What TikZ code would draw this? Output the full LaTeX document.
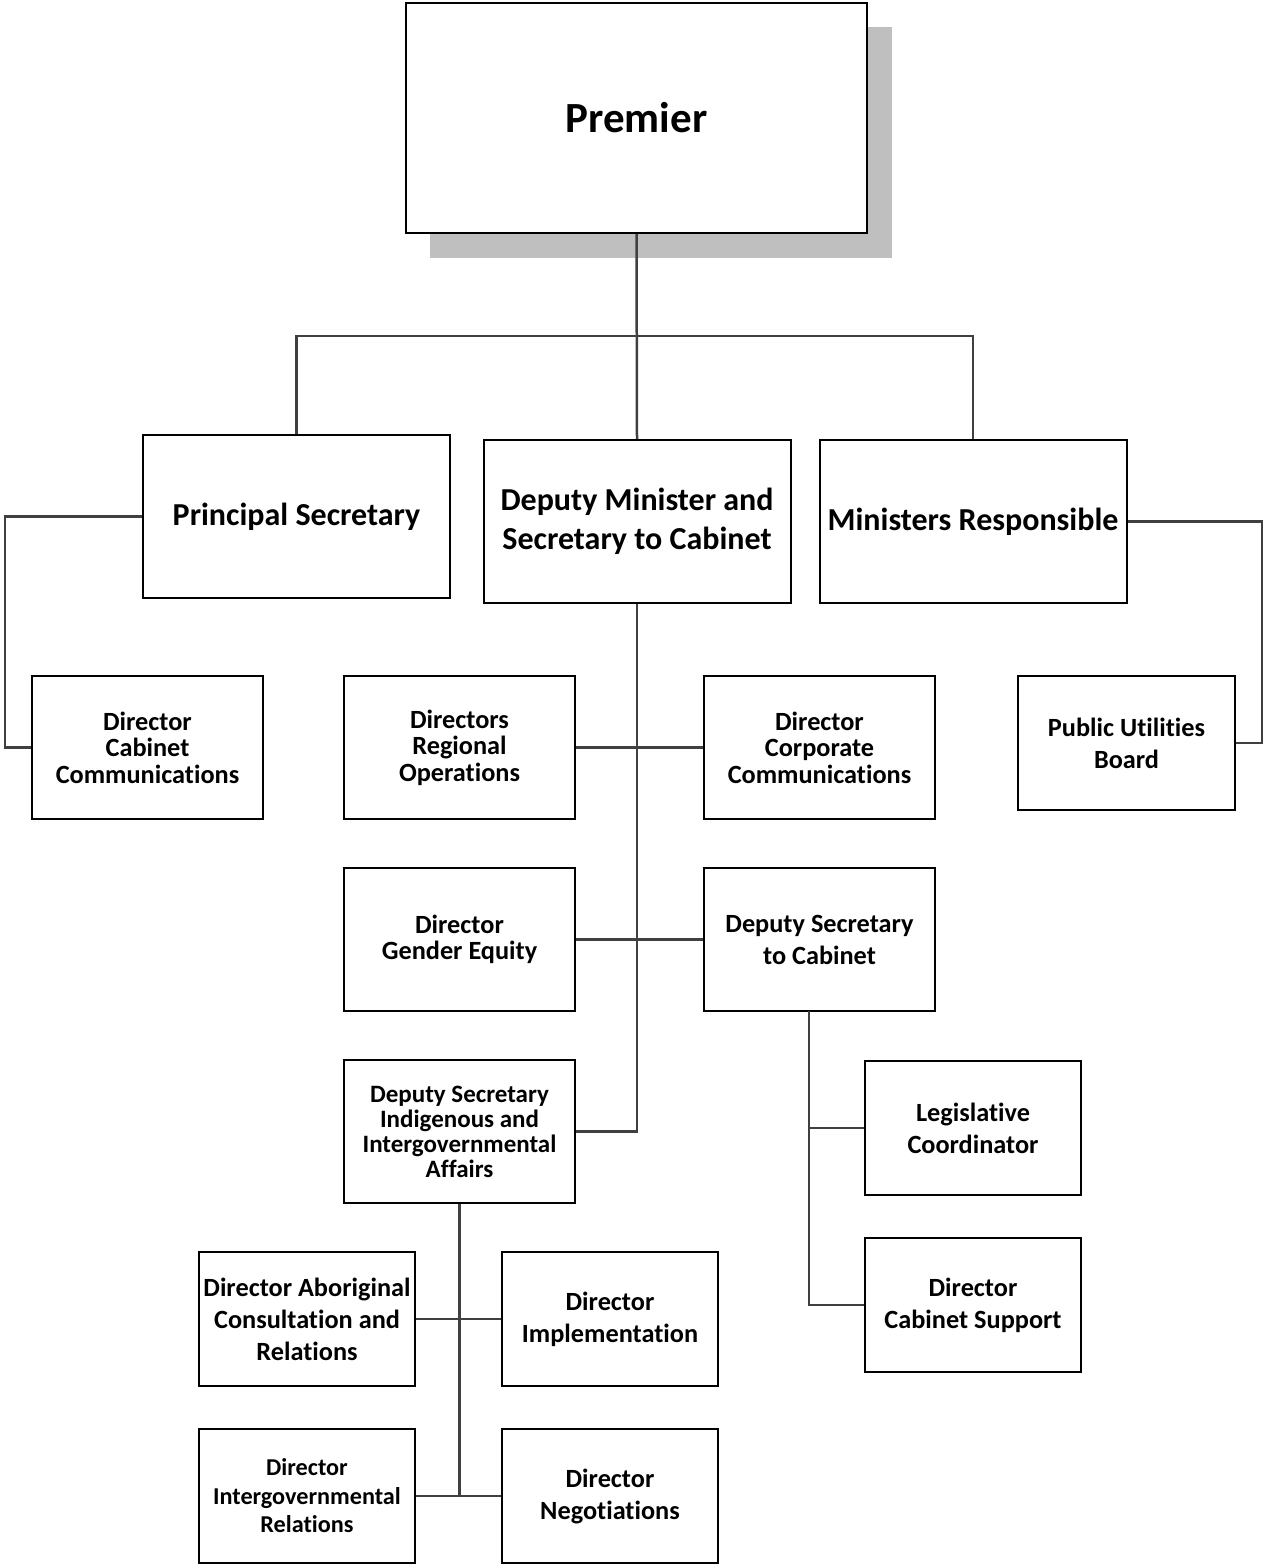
\documentclass[tikz,border=0pt]{standalone}
\usepackage{fontspec}
\setmainfont{Carlito}[Ligatures={NoCommon}]
\begin{document}
\begin{tikzpicture}[x=1pt,y=-1pt,
  box/.style={draw=black, line width=2pt, fill=white, inner sep=0pt, align=center, font=\bfseries},
  top/.style={box, minimum width=307pt, minimum height=163pt, font=\bfseries\fontsize{32}{39}\selectfont},
  mid/.style={box, minimum width=231pt, minimum height=143pt},
  low/.style={box, minimum width=216pt, minimum height=134pt},
  tight/.style={font=\bfseries\fontsize{26.3}{26.5}\selectfont},
  loose/.style={font=\bfseries\fontsize{26.3}{32}\selectfont},
  link/.style={draw=black!75, line width=2.5pt},
]
\useasboundingbox (0,0) rectangle (1264,1565);

% shadow and head box
\fill[black!25] (430,27) rectangle (892,258);
\node[box, minimum width=461pt, minimum height=230pt, font=\bfseries\fontsize{43}{50}\selectfont] (prem) at (636.5,118) {Premier};

% first tier
\node[top] (ps) at (296.5,516.5) {\raisebox{-2pt}{Principal Secretary}};
\node[top] (dm) at (637,521.5) {\raisebox{-2pt}{Deputy Minister and}\\\raisebox{-2pt}{Secretary to Cabinet}};
\node[top] (mr) at (973,521.5) {\raisebox{-2pt}{Ministers Responsible}};

% second tier
\node[mid, tight] (dcc) at (147.5,747.5) {Director\\Cabinet\\Communications};
\node[mid, tight] (dro) at (459.5,747.5) {Directors\\Regional\\Operations};
\node[mid, tight] (dcorp) at (819.5,747.5) {Director\\Corporate\\Communications};
\node[low, loose, minimum width=217pt] (pub) at (1126.5,743) {Public Utilities\\Board};

\node[mid, tight] (dge) at (459.5,939.5) {Director\\Gender Equity};
\node[mid, loose] (dsc) at (819.5,939.5) {Deputy Secretary\\to Cabinet};

\node[mid, font=\bfseries\fontsize{25}{25}\selectfont] (dsi) at (459.5,1131.5) {Deputy Secretary\\Indigenous and\\Intergovernmental\\Affairs};

\node[low, loose] (lc) at (973,1128) {Legislative\\Coordinator};
\node[low, loose] (dcs) at (973,1305) {Director\\Cabinet Support};

\node[low, loose] (dac) at (307,1319) {Director Aboriginal\\Consultation and\\Relations};
\node[low, loose] (di) at (610,1319) {Director\\Implementation};
\node[low, font=\bfseries\fontsize{24.2}{28.5}\selectfont] (dir) at (307,1496) {Director\\Intergovernmental\\Relations};
\node[low, loose] (dn) at (610,1496) {Director\\Negotiations};

% connectors
\coordinate (bus) at (637,336);
\coordinate (lrail) at (5,516.5);
\coordinate (rrail) at (1262,521.5);
\coordinate (dscdrop) at (809,1011);

\draw[link] (prem.south) -- (dm.north);
\draw[link] (ps.north) |- (bus) -| (mr.north);
\draw[link] (ps.west) -- (lrail) |- (dcc.west);
\draw[link] (mr.east) -- (rrail) |- (pub.east);
\draw[link] (dm.south) |- (dsi.east);
\draw[link] (dro.east) -- (dcorp.west);
\draw[link] (dge.east) -- (dsc.west);
\draw[link] (dscdrop) |- (dcs.west);
\draw[link] (dscdrop |- lc.west) -- (lc.west);
\draw[link] (dsi.south) -- (dsi.south |- dn.west);
\draw[link] (dac.east) -- (di.west);
\draw[link] (dir.east) -- (dn.west);
\end{tikzpicture}
\end{document}
